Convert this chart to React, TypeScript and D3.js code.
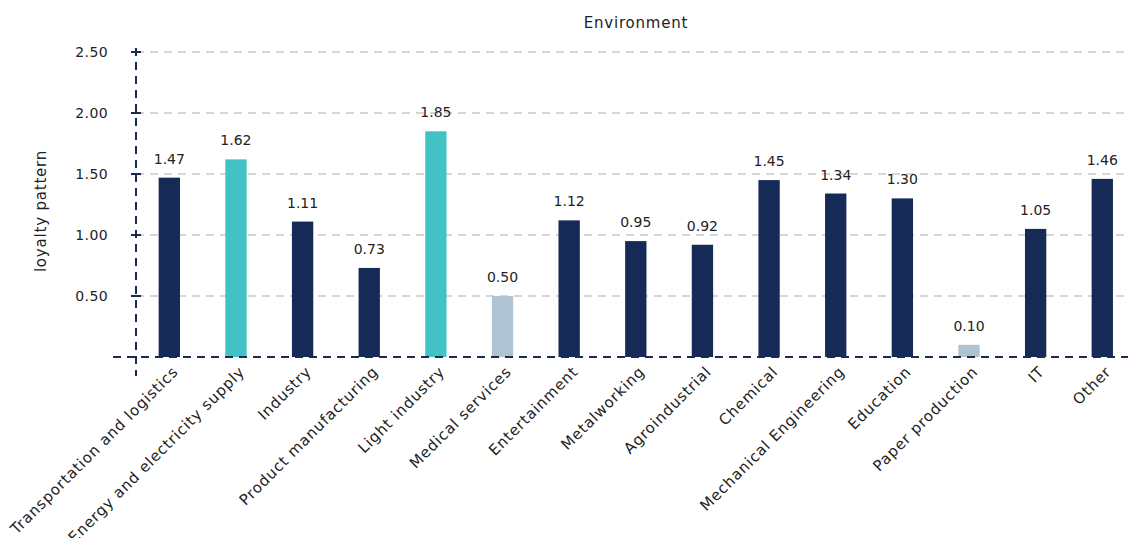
import React from "react";
import * as d3 from "d3";

const categories = [
  "Transportation and logistics",
  "Energy and electricity supply",
  "Industry",
  "Product manufacturing",
  "Light industry",
  "Medical services",
  "Entertainment",
  "Metalworking",
  "Agroindustrial",
  "Chemical",
  "Mechanical Engineering",
  "Education",
  "Paper production",
  "IT",
  "Other",
];
const values = [1.47, 1.62, 1.11, 0.73, 1.85, 0.5, 1.12, 0.95, 0.92, 1.45, 1.34, 1.3, 0.1, 1.05, 1.46];
const colorGroups = ["dark", "teal", "dark", "dark", "teal", "light", "dark", "dark", "dark", "dark", "dark", "dark", "light", "dark", "dark"];
const yTicks = [0.5, 1.0, 1.5, 2.0, 2.5];
const title = "Environment";
const yLabel = "loyalty pattern";

const palette: Record<string, string> = { dark: "#152a57", teal: "#43c2c6", light: "#b0c3d3" };
const FONT = "'DejaVu Sans', 'Noto Sans', sans-serif";

export default function App() {
  const W = 1128, H = 538;
  const x0 = 136, baseline = 357;
  const x = d3.scaleBand<string>().domain(categories).range([x0, x0 + 15 * 66.64]).paddingInner(0.68).paddingOuter(0.34);
  const y = d3.scaleLinear().domain([0, 2.5]).range([baseline, 52]);
  const axisColor = "#1a2b52";
  return (
    <svg width={W} height={H} style={{ position: "absolute", left: 0, top: 0 }} fontFamily={FONT}>
      <text x={636} y={28} textAnchor="middle" fontSize={15} letterSpacing={0.8} fill="#222">{title}</text>
      {yTicks.map((t) => (
        <g key={t}>
          <line x1={x0} x2={W} y1={y(t)} y2={y(t)} stroke="#d6d6d6" strokeWidth={2} strokeDasharray="8,6" />
          <line x1={x0 - 5} x2={x0 + 5} y1={y(t)} y2={y(t)} stroke={axisColor} strokeWidth={2} />
          <text x={108} y={y(t)} dy="0.35em" textAnchor="end" fontSize={14} letterSpacing={0.4} fill="#222">{t.toFixed(2)}</text>
        </g>
      ))}
      {categories.map((c, i) => {
        const bx = x(c)!;
        const bw = x.bandwidth();
        const v = values[i];
        return (
          <g key={c}>
            <rect x={bx} y={y(v)} width={bw} height={baseline - y(v)} fill={palette[colorGroups[i]]} />
            <text x={bx + bw / 2} y={y(v) - 14} textAnchor="middle" fontSize={14} fill="#222">{v.toFixed(2)}</text>
            <text
              transform={`translate(${bx + bw / 2 + 6},${baseline + 12}) rotate(-45)`}
              textAnchor="end"
              dy="0.35em"
              fontSize={15}
              letterSpacing={0.8}
              fill="#222"
            >{c}</text>
          </g>
        );
      })}
      <line x1={x0} x2={x0} y1={48} y2={376} stroke={axisColor} strokeWidth={2} strokeDasharray="8,6" />
      <line x1={113} x2={W} y1={baseline} y2={baseline} stroke={axisColor} strokeWidth={2} strokeDasharray="8,6" />
      <text transform={`translate(46,211) rotate(-90)`} textAnchor="middle" fontSize={15} letterSpacing={0.8} fill="#222">{yLabel}</text>
    </svg>
  );
}
